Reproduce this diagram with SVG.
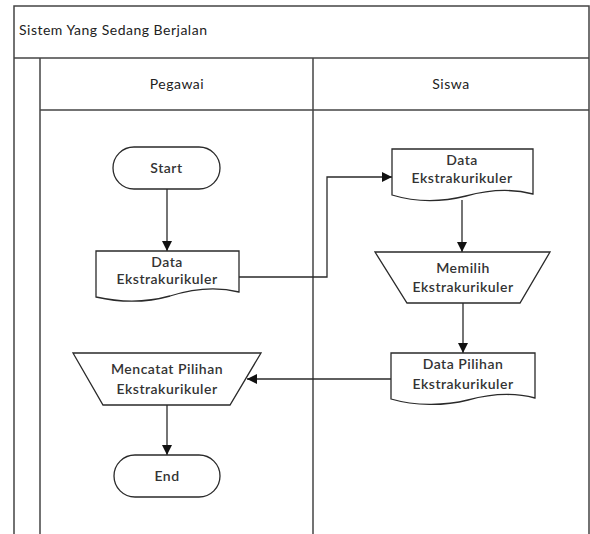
<svg xmlns="http://www.w3.org/2000/svg" width="590" height="534" viewBox="0 0 590 534">
<defs>
<style>
.ln{fill:none;stroke:#2a2a2a;stroke-width:1.3}
.sh{fill:#fff;stroke:#2a2a2a;stroke-width:1.3}
.fr{fill:none;stroke:#444;stroke-width:1.5}
text{font-family:Lato,"Open Sans",sans-serif;font-size:14px;font-weight:600;letter-spacing:0.5px;fill:#333;text-anchor:middle}
.t{text-anchor:start}
.n{font-weight:400;fill:#222}
</style>
<marker id="ah" viewBox="0 0 10 10" refX="10" refY="5" markerWidth="10" markerHeight="10" markerUnits="userSpaceOnUse" orient="auto">
<path d="M0,0 L10,5 L0,10 Z" fill="#111"/>
</marker>
</defs>
<rect width="590" height="534" fill="#fff"/>
<g id="frame">
<path class="fr" d="M14,534 V6 H589 V534"/>
<line class="fr" x1="14" y1="58" x2="589" y2="58"/>
<line class="fr" x1="40" y1="58" x2="40" y2="534"/>
<line class="fr" x1="40" y1="110" x2="589" y2="110"/>
<line class="fr" x1="313" y1="58" x2="313" y2="534"/>
<text class="t n" x="19" y="35">Sistem Yang Sedang Berjalan</text>
<text class="n" x="177" y="89">Pegawai</text>
<text class="n" x="451" y="89">Siswa</text>
</g>
<g id="connectors">
<line class="ln" x1="167" y1="189" x2="167" y2="251" marker-end="url(#ah)"/>
<polyline class="ln" points="239,277 327,277 327,177 392,177" marker-end="url(#ah)"/>
<line class="ln" x1="462" y1="200" x2="462" y2="252" marker-end="url(#ah)"/>
<line class="ln" x1="463" y1="303" x2="463" y2="353" marker-end="url(#ah)"/>
<line class="ln" x1="391" y1="379" x2="247" y2="379" marker-end="url(#ah)"/>
<line class="ln" x1="167" y1="405" x2="167" y2="455" marker-end="url(#ah)"/>
</g>
<g id="start">
<rect class="sh" x="113" y="147" width="107" height="42" rx="21"/>
<text x="166.5" y="173">Start</text>
</g>
<g id="data1">
<path class="sh" d="M96,251 H239 V292 C215,286 192,289 170,296 C145,303 118,302 96,297 Z"/>
<text x="167" y="267">Data</text>
<text x="167" y="284">Ekstrakurikuler</text>
</g>
<g id="data2">
<path class="sh" d="M392,149 H533 V194 C510,188 488,190 466,196 C442,202 415,202 392,195 Z"/>
<text x="462" y="165">Data</text>
<text x="462" y="183">Ekstrakurikuler</text>
</g>
<g id="memilih">
<path class="sh" d="M375,252 H550 L520,303 H407 Z"/>
<text x="463" y="273">Memilih</text>
<text x="463" y="292">Ekstrakurikuler</text>
</g>
<g id="datapilihan">
<path class="sh" d="M391,353 H535 V398 C512,392 490,394 468,400 C444,406 415,406 391,399 Z"/>
<text x="463" y="369">Data Pilihan</text>
<text x="463" y="389">Ekstrakurikuler</text>
</g>
<g id="mencatat">
<path class="sh" d="M73,353 H261 L230,405 H103 Z"/>
<text x="167" y="374">Mencatat Pilihan</text>
<text x="167" y="394">Ekstrakurikuler</text>
</g>
<g id="end">
<rect class="sh" x="114" y="455" width="106" height="42" rx="21"/>
<text x="167" y="481">End</text>
</g>
</svg>
